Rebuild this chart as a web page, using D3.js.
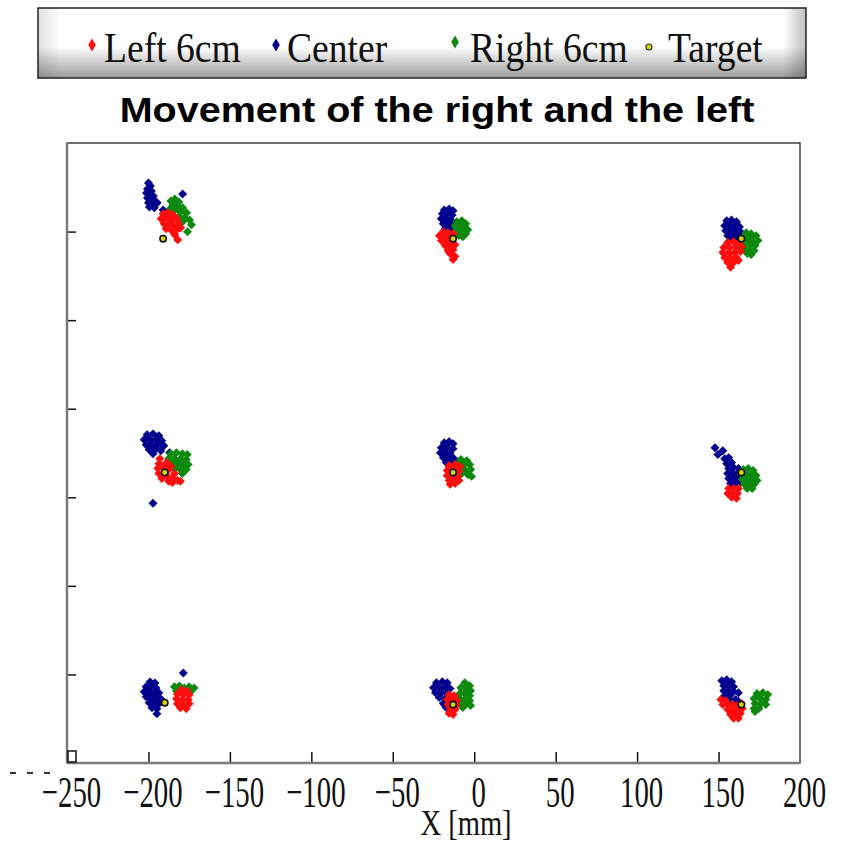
<!DOCTYPE html>
<html>
<head>
<meta charset="utf-8">
<script src="https://d3js.org/d3.v7.min.js"></script>
<style>
body { margin: 0; background: #fff; }
svg { display: block; }
</style>
</head>
<body>
<div id="root"></div>
<script>
// x ticks in mm, y ticks (unlabelled)
let x_ticks = [-250, -200, -150, -100, -50, 0, 50, 100, 150, 200];
let y_ticks = [50, 100, 150, 200, 250, 300];

let legend_labels = ['Left 6cm', 'Center', 'Right 6cm', 'Target'];

let target_pts = [
    [-191, 296], [-13, 296], [164, 296],
    [-190, 164], [-13, 164], [164, 164],
    [-190, 34], [-13, 33], [164, 33]
];

let center_pts = [
    // top left
    [-200, 327.4], [-198.8, 325.7], [-200.6, 324], [-198.2, 322.9], [-201.2, 321.8], [-199.4, 320.6],
    [-197, 320.1], [-200.6, 319], [-198.2, 317.8], [-195.8, 317.3], [-200, 316.2], [-197.6, 315.6],
    [-194.6, 316.2], [-199.4, 313.9], [-196.4, 313.4], [-179, 321.2], [-191, 312.2],
    // top center
    [-18.4, 312.2], [-15.4, 312.8], [-13, 311.7], [-19.6, 310], [-16.6, 310], [-13.6, 309.4],
    [-20.2, 307.2], [-17.2, 307.2], [-14.2, 306.6], [-19, 304.4], [-16, 304.4], [-13.6, 303.8],
    [-17.8, 301.6], [-15.4, 300.5], [-14.2, 302.7],
    // top right
    [155, 306.1], [158, 306.6], [161, 305.5], [153.8, 303.3], [156.8, 303.3], [159.8, 303.3],
    [162.8, 302.7], [154.4, 300.5], [157.4, 300.5], [160.4, 300.5], [163.4, 299.9], [155.6, 297.7],
    [158.6, 297.7], [161.6, 297.7], [156.8, 294.9], [159.8, 294.9],
    // middle left
    [-200.8, 185.3], [-197.2, 185.8], [-193.6, 184.7], [-202.6, 182.5], [-199, 182.5], [-195.4, 182.5],
    [-191.8, 181.9], [-201.4, 179.7], [-197.8, 179.7], [-194.2, 179.7], [-190.6, 179.1], [-199.6, 176.9],
    [-196, 176.9], [-192.4, 176.3], [-197.2, 174.6], [-187, 175.2], [-197.2, 146.6],
    // middle center
    [-18.4, 180.8], [-15.4, 181.4], [-13, 180.2], [-20.2, 178], [-16.6, 178], [-13, 177.4],
    [-20.8, 175.2], [-17.8, 175.2], [-14.8, 174.6], [-19, 172.4], [-16, 172.4], [-12.4, 171.8],
    [-17.2, 169.6], [-14.2, 169.6], [-10.6, 169.6], [-15.4, 167.4],
    // middle right
    [147.8, 178], [149.6, 174.1], [152.6, 176.3], [153.8, 171.8], [156.2, 172.4], [155, 169],
    [158, 169.6], [156.2, 166.2], [159.2, 166.8], [162.2, 166.2], [155.6, 163.4], [158.6, 163.4],
    [161.6, 163.4], [164.6, 162.9], [156.2, 160.6], [159.2, 160.6], [162.2, 160.6], [157.4, 157.8],
    [160.4, 157.8], [163.4, 158.4], [159.2, 155.6],
    // bottom left
    [-199, 45.8], [-196, 45.2], [-201.4, 43], [-198.4, 43], [-195.4, 42.4], [-202.6, 40.2],
    [-199.6, 40.2], [-196.6, 39.6], [-193.6, 39.6], [-201.4, 37.4], [-198.4, 36.8], [-195.4, 36.8],
    [-192.4, 36.2], [-199.6, 34], [-196.6, 34], [-193.6, 33.4], [-197.8, 31.2], [-194.8, 30.6],
    [-194.8, 27.8], [-178.6, 50.8],
    // bottom center
    [-23.2, 45.3], [-19.6, 45.9], [-16.6, 45.3], [-25, 42.5], [-21.4, 42.5], [-17.8, 42.5],
    [-14.8, 42], [-23.8, 39.7], [-20.2, 39.7], [-16.6, 39.2], [-21.4, 36.9], [-17.8, 36.4],
    [-14.8, 36.4], [-19, 33.6], [-16, 33.6], [-17.2, 31.3],
    // bottom right
    [152, 46.4], [155, 47], [158, 45.9], [153.2, 43.6], [156.2, 43.6], [159.2, 43.1],
    [153.2, 40.8], [156.2, 40.8], [159.2, 40.3], [162.2, 39.7], [153.8, 38], [156.8, 38],
    [154.4, 35.2], [157.4, 35.2], [160.4, 35.8], [162.2, 34.7]
];

let right_pts = [
    // top left
    [-186.2, 317.3], [-183.8, 318.4], [-181.4, 316.7], [-185, 315], [-182, 314.5], [-179, 313.4],
    [-186.8, 312.8], [-183.8, 312.2], [-180.2, 311.1], [-176.6, 310.6], [-185, 309.4], [-181.4, 308.3],
    [-177.8, 307.8], [-174.8, 306.6], [-179, 305.5], [-173.6, 303.8], [-176, 299.9],
    // top center
    [-10.6, 305.5], [-7.6, 306.1], [-5.2, 304.4], [-11.8, 303.3], [-8.8, 302.7], [-5.8, 302.2],
    [-4, 301], [-11.2, 300.5], [-8.2, 299.9], [-5.2, 298.8], [-9.4, 297.7], [-7, 297.1],
    // top right
    [167, 299.4], [170, 298.8], [173, 297.7], [165.2, 296.6], [168.2, 296], [171.2, 295.4],
    [174.2, 294.9], [166.4, 293.2], [169.4, 292.6], [172.4, 292.1], [165.8, 290.4], [168.8, 289.8],
    [171.8, 289.3], [167.6, 287.6], [170, 287],
    // middle left
    [-186.4, 174.6], [-182.8, 175.2], [-179.2, 174.6], [-176.2, 174.1], [-187.6, 171.8], [-184, 171.8],
    [-180.4, 171.8], [-176.8, 171.3], [-185.8, 169], [-182.2, 169], [-178.6, 168.5], [-175.6, 168.5],
    [-184, 166.2], [-180.4, 165.7], [-176.8, 165.7], [-179.2, 163.4],
    // middle center
    [-8.2, 171.3], [-4.6, 170.7], [-10, 169], [-6.4, 168.5], [-2.8, 168.5], [-9.4, 166.2],
    [-5.8, 165.7], [-2.2, 165.7], [-7.6, 163.4], [-4, 162.9], [-1.6, 161.8],
    // middle right
    [165.2, 165.7], [168.2, 166.2], [171.2, 165.1], [164, 162.9], [167, 162.9], [170, 162.9],
    [173, 162.3], [164.6, 160.1], [167.6, 160.1], [170.6, 160.1], [173.6, 159.5], [165.8, 157.3],
    [168.8, 157.3], [171.8, 157.3], [167.6, 155], [170.6, 155],
    // bottom left
    [-184, 43], [-181, 43.5], [-178, 42.4], [-175, 43], [-172, 42.4], [-182.8, 40.7], [-173.8, 40.7],
    // bottom center
    [-5.8, 45.3], [-2.8, 43.6], [-8.2, 42.5], [-5.2, 42], [-2.2, 40.8], [-8.8, 39.2],
    [-5.8, 39.2], [-2.8, 38], [-8.8, 36.4], [-5.8, 35.8], [-2.8, 35.2], [-8.2, 33.6],
    [-5.2, 33], [-2.2, 32.4], [-7, 31.3],
    // bottom right
    [173.6, 39.2], [177.2, 39.7], [180.2, 38.6], [171.8, 36.4], [175.4, 36.4], [179, 35.8],
    [172.4, 33.6], [176, 33.6], [179, 33], [171.8, 30.8], [174.8, 30.8], [172.4, 29.1]
];

let left_pts = [
    // top left
    [-191, 310], [-188, 310.6], [-185, 309.4], [-192.2, 307.2], [-188.6, 307.8], [-185.6, 306.6],
    [-182.6, 307.2], [-190.4, 304.4], [-187.4, 303.8], [-184.4, 303.3], [-181.4, 304.4], [-189.2, 301.6],
    [-185.6, 300.5], [-182.6, 301], [-183.8, 298.2], [-182, 295.4], [-180.2, 302.2],
    // top center
    [-19, 299.9], [-16, 299.4], [-13, 298.8], [-21.4, 297.7], [-18.4, 297.1], [-15.4, 296.6],
    [-20.2, 294.9], [-17.2, 294.3], [-14.2, 293.8], [-17.8, 292.1], [-14.8, 291.5], [-11.8, 292.6],
    [-16, 289.3], [-13, 289.8], [-14.2, 287], [-11.8, 285.9], [-13, 284.2], [-15.4, 288.2],
    // top right
    [155.6, 293.8], [159.2, 294.3], [162.8, 293.8], [153.2, 291], [156.8, 291], [160.4, 291],
    [164, 291.5], [152.6, 288.2], [156.2, 288.2], [159.8, 288.2], [163.4, 288.7], [153.8, 285.4],
    [157.4, 285.4], [161, 285.4], [155.6, 282.6], [159.2, 282.6], [157.4, 279.8], [162.2, 283.7],
    // middle left
    [-193, 171.8], [-193.6, 169], [-194.2, 166.2], [-193.6, 163.4], [-191.8, 160.6], [-188.8, 169.6],
    [-187.6, 165.7], [-188.2, 161.8], [-185.2, 160.6], [-182.2, 159.5], [-185.2, 158.4], [-187.6, 159],
    [-184, 163.4], [-180.4, 159], [-191.2, 167.4], [-186.4, 167.4],
    // middle center
    [-15.4, 167.9], [-11.8, 168.5], [-8.8, 167.4], [-16.6, 165.1], [-9.4, 164.6], [-16.6, 162.3],
    [-10, 161.8], [-15.4, 159.5], [-12.4, 160.6], [-9.4, 159.5], [-14.8, 157.3], [-11.8, 157.8],
    [-13, 165.7], [-14.2, 161.8], [-11.2, 162.9],
    // middle right
    [156.2, 155], [159.2, 155], [162.2, 155], [155.6, 152.2], [158.6, 152.2], [161.6, 152.2],
    [158, 150], [161, 149.4],
    // bottom left
    [-179.8, 41.3], [-176.2, 40.7], [-182.2, 39], [-178.6, 38.5], [-175, 38.5], [-182.8, 36.2],
    [-179.2, 35.7], [-175.6, 35.7], [-182.2, 33.4], [-178.6, 32.9], [-175, 33.4], [-180.4, 31.2],
    [-176.8, 30.6],
    // bottom center
    [-15.4, 38.6], [-12.4, 38], [-16.6, 35.8], [-13, 35.2], [-10.6, 35.2], [-16, 33],
    [-11.2, 32.4], [-14.8, 30.2], [-11.8, 30.2], [-15.4, 28], [-13, 27.4],
    // bottom right
    [151.4, 35.8], [154.4, 35.2], [152.6, 33], [155.6, 33], [158.6, 33], [161.6, 32.4],
    [164, 33.6], [155.6, 30.2], [158.6, 30.2], [161.6, 30.2], [164.6, 30.8], [157.4, 27.4],
    [160.4, 27.4], [163.4, 28], [159.2, 25.2], [162.2, 25.2]
];

let red = '#ff1010';
let navy = '#00008e';
let green = '#0a8a0a';
let yellow = '#d8d400';

let width = 842;
let height = 842;
let plot = { left: 67, right: 800, top: 143, bottom: 763 };

let scale_x = d3.scaleLinear().domain([-250, 200]).range([plot.left, plot.right]);
let scale_y = d3.scaleLinear().domain([0, 350]).range([plot.bottom, plot.top]);

let serif = '"Liberation Serif", "Times New Roman", serif';

let svg = d3.select('#root').append('svg')
    .attr('width', width)
    .attr('height', height);

let defs = svg.append('defs');
let grad = defs.append('linearGradient')
    .attr('id', 'legend-grad')
    .attr('x1', 0).attr('y1', 0).attr('x2', 0).attr('y2', 1);
grad.append('stop').attr('offset', '0%').attr('stop-color', '#ffffff');
grad.append('stop').attr('offset', '55%').attr('stop-color', '#ffffff');
grad.append('stop').attr('offset', '100%').attr('stop-color', '#9c9c9c');
let grad_r = defs.append('linearGradient')
    .attr('id', 'legend-grad-r')
    .attr('x1', 0).attr('y1', 0).attr('x2', 1).attr('y2', 0);
grad_r.append('stop').attr('offset', '0%').attr('stop-color', '#000').attr('stop-opacity', 0.12);
grad_r.append('stop').attr('offset', '3%').attr('stop-color', '#000').attr('stop-opacity', 0);
grad_r.append('stop').attr('offset', '97%').attr('stop-color', '#000').attr('stop-opacity', 0);
grad_r.append('stop').attr('offset', '100%').attr('stop-color', '#000').attr('stop-opacity', 0.25);
defs.append('filter').attr('id', 'soft')
    .append('feGaussianBlur').attr('stdDeviation', 0.7);

// legend box
let legend = svg.append('g').attr('class', 'legend');
legend.append('rect')
    .attr('x', 38).attr('y', 8).attr('width', 768).attr('height', 70)
    .attr('fill', 'url(#legend-grad)');
legend.append('rect')
    .attr('x', 38).attr('y', 8).attr('width', 768).attr('height', 70)
    .attr('fill', 'url(#legend-grad-r)')
    .attr('stroke', '#222')
    .attr('stroke-width', 1.5);

let legend_items = [
    { label: legend_labels[0], color: red, mx: 92, my: 45, tx: 104, kind: 'diamond' },
    { label: legend_labels[1], color: navy, mx: 276, my: 45, tx: 287, kind: 'diamond' },
    { label: legend_labels[2], color: green, mx: 455, my: 42, tx: 470, kind: 'diamond' },
    { label: legend_labels[3], color: yellow, mx: 649, my: 47, tx: 668, kind: 'target' }
];
let diamond = d3.symbol().type(d3.symbolDiamond);
let square = d3.symbol().type(d3.symbolSquare);

legend.selectAll('g.item')
    .data(legend_items)
    .join('g')
    .attr('class', 'item')
    .each(function (d) {
        let g = d3.select(this);
        if (d.kind === 'diamond') {
            g.append('path')
                .attr('d', diamond.size(50)())
                .attr('transform', `translate(${d.mx}, ${d.my})`)
                .attr('fill', d.color);
        } else {
            g.append('circle')
                .attr('cx', d.mx).attr('cy', d.my).attr('r', 3)
                .attr('fill', d.color)
                .attr('stroke', '#333')
                .attr('stroke-width', 1.2);
        }
        g.append('text')
            .attr('transform', `translate(${d.tx}, 62) scale(0.94, 1.08)`)
            .attr('font-family', serif)
            .attr('font-size', 40)
            .attr('fill', '#111')
            .text(d.label);
    });

// title
svg.append('text')
    .attr('transform', 'translate(437, 122) scale(1.13, 1)')
    .attr('text-anchor', 'middle')
    .attr('font-family', '"Liberation Sans", Arial, sans-serif')
    .attr('font-weight', 'bold')
    .attr('font-size', 35)
    .attr('fill', '#000')
    .text('Movement of the right and the left');

// frame
svg.append('rect')
    .attr('x', plot.left).attr('y', plot.top)
    .attr('width', plot.right - plot.left).attr('height', plot.bottom - plot.top)
    .attr('fill', 'none')
    .attr('stroke', '#111')
    .attr('stroke-width', 1.2);

// x axis
let axis_x = svg.append('g')
    .attr('class', 'axis-x')
    .attr('transform', `translate(0, ${plot.bottom})`)
    .call(d3.axisBottom(scale_x).tickValues(x_ticks).tickSizeInner(-11).tickSizeOuter(0));
axis_x.select('.domain').remove();
axis_x.selectAll('.tick line')
    .attr('stroke', '#111')
    .attr('stroke-width', 1.5)
    .attr('opacity', d => d === -250 || d === 200 ? 0 : 1);
axis_x.selectAll('.tick text')
    .attr('y', 0)
    .attr('dy', null)
    .attr('transform', 'translate(4, 44) scale(0.72, 1.12)')
    .attr('font-family', serif)
    .attr('font-size', 40)
    .attr('fill', '#111');

// y axis (no labels)
let axis_y = svg.append('g')
    .attr('class', 'axis-y')
    .attr('transform', `translate(${plot.left}, 0)`)
    .call(d3.axisLeft(scale_y).tickValues(y_ticks).tickSizeInner(-9).tickSizeOuter(0).tickFormat(''));
axis_y.select('.domain').remove();
axis_y.selectAll('.tick line')
    .attr('stroke', '#111')
    .attr('stroke-width', 1.5);

// grey axis lines on left and bottom
svg.append('line')
    .attr('x1', plot.left).attr('x2', plot.left)
    .attr('y1', plot.top).attr('y2', plot.bottom)
    .attr('stroke', '#7a7a7a').attr('stroke-width', 2.5);
svg.append('line')
    .attr('x1', plot.left).attr('x2', plot.right)
    .attr('y1', plot.bottom).attr('y2', plot.bottom)
    .attr('stroke', '#7a7a7a').attr('stroke-width', 2.5);

// small origin box and leftover dashes below the corner
svg.append('rect')
    .attr('x', plot.left + 1).attr('y', plot.bottom - 12)
    .attr('width', 8).attr('height', 11)
    .attr('fill', '#fff')
    .attr('stroke', '#111')
    .attr('stroke-width', 1.5);
svg.append('line')
    .attr('x1', 10).attr('x2', 58)
    .attr('y1', 773).attr('y2', 773)
    .attr('stroke', '#333')
    .attr('stroke-width', 2)
    .attr('stroke-dasharray', '6 11');

// x title
svg.append('text')
    .attr('transform', 'translate(466, 835) scale(0.84, 1.05)')
    .attr('text-anchor', 'middle')
    .attr('font-family', serif)
    .attr('font-size', 34)
    .attr('fill', '#111')
    .text('X [mm]');

// scatter: small rotated squares, blurred like the scanned original
let marks = svg.append('g').attr('class', 'marks').attr('filter', 'url(#soft)');
let series = [
    { name: 'center', pts: center_pts, color: navy },
    { name: 'right', pts: right_pts, color: green },
    { name: 'left', pts: left_pts, color: red }
];
series.forEach(s => {
    marks.append('g')
        .attr('class', s.name)
        .attr('fill', s.color)
        .selectAll('path')
        .data(s.pts)
        .join('path')
        .attr('d', square.size(40)())
        .attr('transform', d => `translate(${scale_x(d[0])}, ${scale_y(d[1])}) rotate(45)`);
});
marks.append('g')
    .attr('class', 'target')
    .selectAll('circle')
    .data(target_pts)
    .join('circle')
    .attr('cx', d => scale_x(d[0]))
    .attr('cy', d => scale_y(d[1]))
    .attr('r', 3.2)
    .attr('fill', yellow)
    .attr('stroke', '#111')
    .attr('stroke-width', 1.6);
</script>
</body>
</html>
